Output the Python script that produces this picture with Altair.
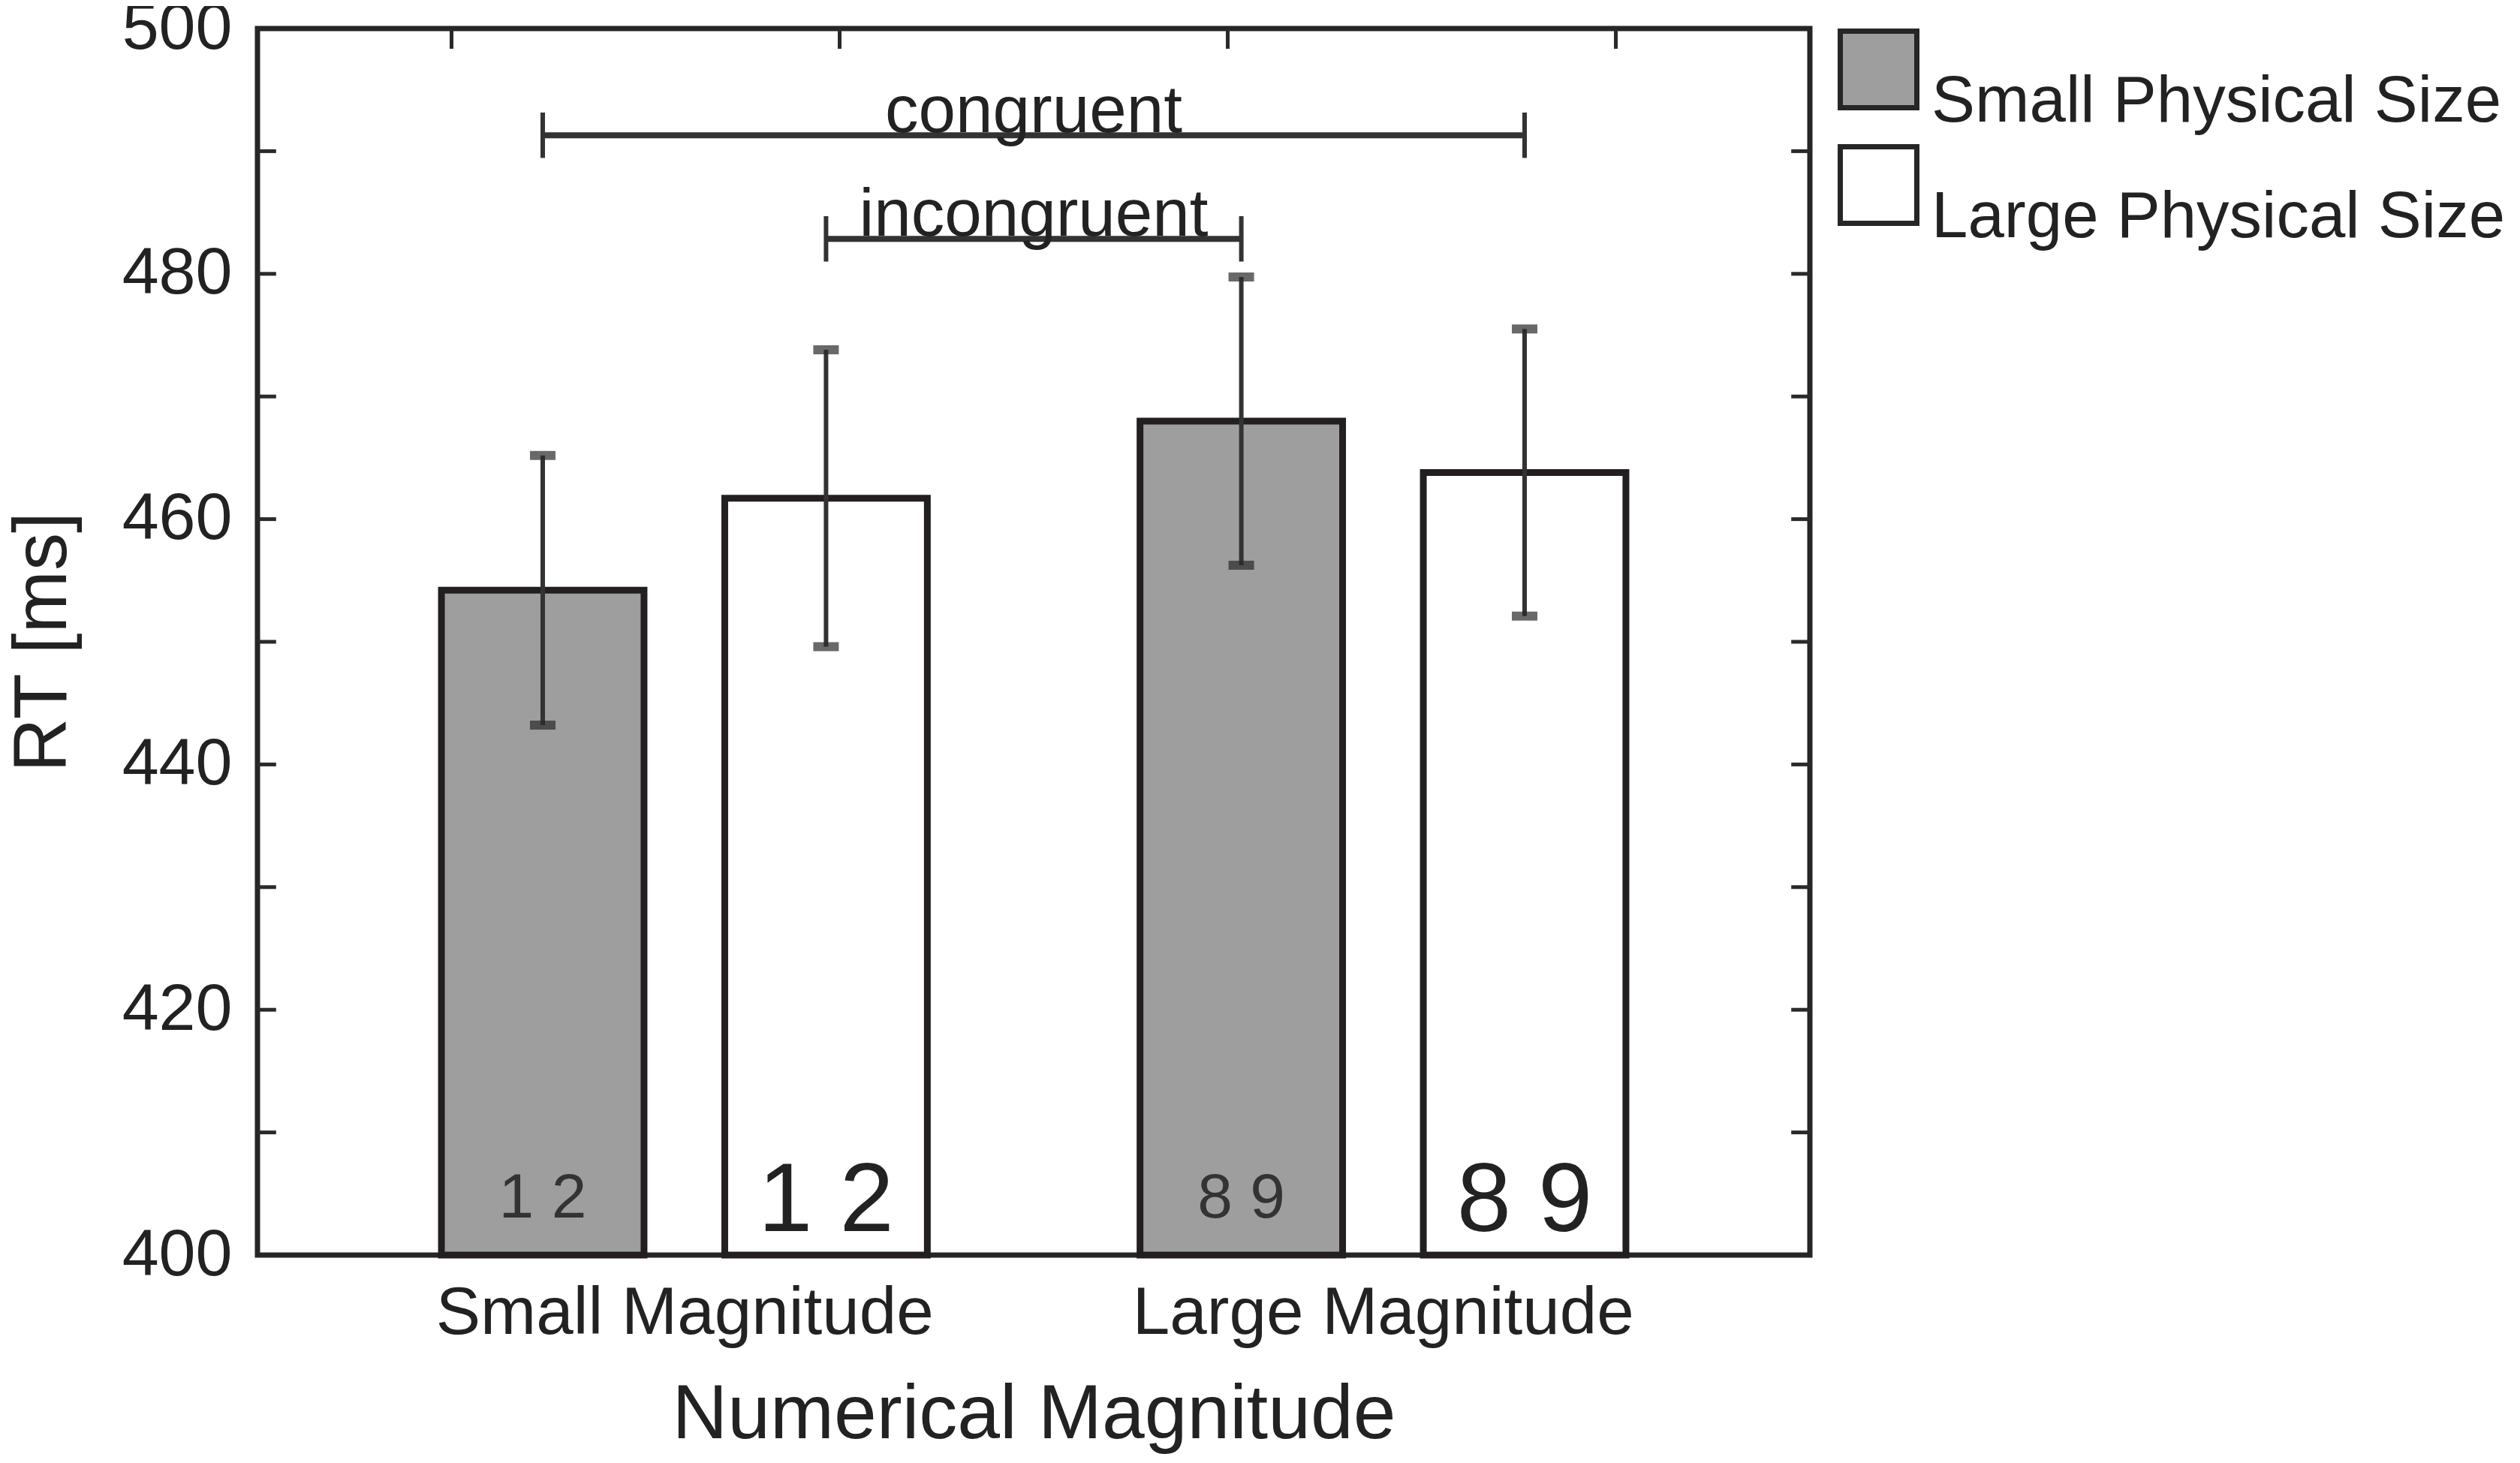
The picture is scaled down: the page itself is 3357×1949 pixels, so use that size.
import altair as alt
import pandas as pd

# ---------------- data ----------------
magnitude = ["Small Magnitude", "Small Magnitude", "Large Magnitude", "Large Magnitude"]
physical = ["Small Physical Size", "Large Physical Size", "Small Physical Size", "Large Physical Size"]
rt_mean = [454.2, 461.7, 468.0, 463.8]
rt_err = [11.0, 12.1, 11.75, 11.7]
digits = ["1 2", "1 2", "8 9", "8 9"]

group_names = ["Small Magnitude", "Large Magnitude"]
group_centers = [1.6, 3.4]          # x position of each magnitude group
size_names = ["Small Physical Size", "Large Physical Size"]
size_offsets = [-0.365, 0.365]      # bar offset inside a group

bracket_labels = ["congruent", "incongruent"]
bracket_pairs = [(0, 3), (1, 2)]    # bars joined by each bracket
bracket_y = [491.3, 482.85]

ytick_values = [410, 420, 430, 440, 450, 460, 470, 480, 490]
ylabel_values = [400, 420, 440, 460, 480, 500]
xtick_values = [1, 2, 3, 4]

# ---------------- derived tables ----------------
gc = dict(zip(group_names, group_centers))
so = dict(zip(size_names, size_offsets))
xpos = [gc[m] + so[p] for m, p in zip(magnitude, physical)]
HALF = 0.261

bars = pd.DataFrame({
    "magnitude": magnitude, "physical": physical, "rt": rt_mean, "err": rt_err,
    "digits": digits, "x": xpos,
})
bars["x1"] = bars["x"] - HALF
bars["x2"] = bars["x"] + HALF
bars["lo"] = bars["rt"] - bars["err"]
bars["hi"] = bars["rt"] + bars["err"]

br_rows, end_rows = [], []
for lab, (a, b), yv in zip(bracket_labels, bracket_pairs, bracket_y):
    br_rows.append({"label": lab, "xa": xpos[a], "xb": xpos[b], "xm": (xpos[a] + xpos[b]) / 2, "y": yv})
    for i in (a, b):
        end_rows.append({"x": xpos[i], "ylo": yv - 1.85, "yhi": yv + 1.85})
brackets = pd.DataFrame(br_rows)
ends = pd.DataFrame(end_rows)

yt = pd.DataFrame({"v": ytick_values})
xt = pd.DataFrame({"v": xtick_values})

# ---------------- scales & axes ----------------
XMIN, XMAX = 0.5, 4.5
xs = alt.Scale(domain=[XMIN, XMAX], nice=False, zero=False)
ys = alt.Scale(domain=[400, 500], nice=False, zero=False)
FONT = "Liberation Sans"
INK = "#222222"
LINE = "#2a2a2a"

label_expr = (f"datum.value < {(group_centers[0] + group_centers[1]) / 2} ? "
              f"'{group_names[0]}' : '{group_names[1]}'")

XAXIS = alt.Axis(
    values=[(xpos[0] + xpos[1]) / 2, (xpos[2] + xpos[3]) / 2], labelExpr=label_expr,
    title="Numerical Magnitude", ticks=False, tickSize=0, domain=False, grid=False,
    labelFontSize=89, labelPadding=34, labelColor=INK, labelFont=FONT, labelLimit=2000,
    titleFontSize=102, titlePadding=40, titleColor=INK, titleFont=FONT, titleFontWeight="normal")
YAXIS = alt.Axis(
    values=ylabel_values, title="RT [ms]", ticks=False, tickSize=0, domain=False, grid=False,
    labelFontSize=88, labelPadding=34, labelColor=INK, labelFont=FONT,
    titleFontSize=100, titlePadding=54, titleColor=INK, titleFont=FONT, titleFontWeight="normal")


def X(field=None, datum=None):
    if datum is not None:
        return alt.X(datum=datum, scale=xs, axis=XAXIS, title="Numerical Magnitude")
    return alt.X(field, scale=xs, axis=XAXIS, title="Numerical Magnitude")


def Y(field=None, datum=None):
    if datum is not None:
        return alt.Y(datum=datum, scale=ys, axis=YAXIS, title="RT [ms]")
    return alt.Y(field, scale=ys, axis=YAXIS, title="RT [ms]")


bar_layer = alt.Chart(bars).mark_bar(stroke="#231f20", strokeWidth=9, opacity=1).encode(
    x=X("x1:Q"), x2="x2:Q",
    y=Y("rt:Q"), y2=alt.datum(400),
    color=alt.Color("physical:N", scale=alt.Scale(domain=size_names, range=["#9d9e9d", "#ffffff"]),
                    legend=alt.Legend(title=None, orient="right", offset=37, padding=0,
                                      symbolType="square", symbolSize=10400, symbolStrokeWidth=7,
                                      symbolStrokeColor="#262626", symbolOpacity=1,
                                      labelFontSize=87, labelFont=FONT, labelColor=INK,
                                      labelBaseline="top", labelOffset=16, rowPadding=2,
                                      labelLimit=2000)),
)

err_line = alt.Chart(bars).mark_rule(color="#333333", strokeWidth=6).encode(
    x=X("x:Q"), y=Y("lo:Q"), y2="hi:Q")
cap_lo = alt.Chart(bars).mark_tick(color="#2a2a2a", orient="horizontal", size=34, thickness=12).encode(
    x=X("x:Q"), y=Y("lo:Q"))
cap_hi = alt.Chart(bars).mark_tick(color="#2a2a2a", orient="horizontal", size=34, thickness=12).encode(
    x=X("x:Q"), y=Y("hi:Q"))

dig_small = alt.Chart(bars).transform_filter(alt.datum.physical == size_names[0]).mark_text(
    font=FONT, fontSize=84, color="#333333", baseline="alphabetic", align="center", dy=-50).encode(
    x=X("x:Q"), y=Y(datum=400), text="digits:N")
dig_large = alt.Chart(bars).transform_filter(alt.datum.physical == size_names[1]).mark_text(
    font=FONT, fontSize=130, color="#222222", baseline="alphabetic", align="center", dy=-32).encode(
    x=X("x:Q"), y=Y(datum=400), text="digits:N")

br_h = alt.Chart(brackets).mark_rule(color="#333333", strokeWidth=8).encode(
    x=X("xa:Q"), x2="xb:Q", y=Y("y:Q"))
br_v = alt.Chart(ends).mark_rule(color="#333333", strokeWidth=6).encode(
    x=X("x:Q"), y=Y("ylo:Q"), y2="yhi:Q")
br_t = alt.Chart(brackets).mark_text(font=FONT, fontSize=89, color=INK, baseline="alphabetic",
                                     align="center", dy=-4).encode(
    x=X("xm:Q"), y=Y("y:Q"), text="label:N")

TL = 0.048
tick_left = alt.Chart(yt).mark_rule(color=LINE, strokeWidth=5).encode(
    x=X(datum=XMIN), x2=alt.X2(datum=XMIN + TL), y=Y("v:Q"))
tick_right = alt.Chart(yt).mark_rule(color=LINE, strokeWidth=5).encode(
    x=X(datum=XMAX - TL), x2=alt.X2(datum=XMAX), y=Y("v:Q"))
tick_top = alt.Chart(xt).mark_rule(color=LINE, strokeWidth=5).encode(
    x=X("v:Q"), y=Y(datum=500), y2=alt.Y2(datum=498.35))

chart = alt.layer(
    tick_left, tick_right, tick_top,
    bar_layer, err_line, cap_lo, cap_hi, dig_small, dig_large, br_h, br_v, br_t,
).properties(
    width=2068, height=1634,
    autosize=alt.AutoSizeParams(type="none"),
    padding={"left": 335, "top": 30, "right": 936, "bottom": 265},
).configure(
    background="white"
).configure_view(
    stroke="#262626", strokeWidth=7
)

chart.save("out.html", embed_options={"renderer": "svg", "actions": False})
